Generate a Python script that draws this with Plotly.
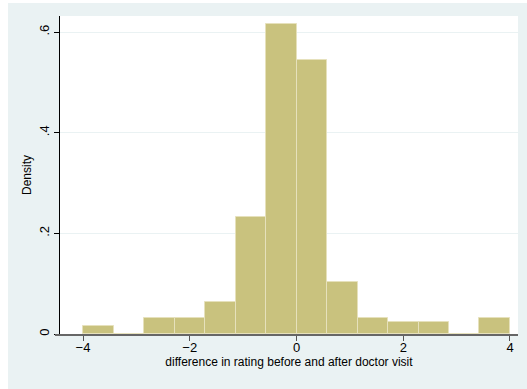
import plotly.graph_objects as go

# Histogram of rating differences: 14 bins of equal width starting at -4
bin_start = -4.0
bin_width = 4.0 / 7.0
density = [0.0165, 0.0, 0.0325, 0.0325, 0.064, 0.232, 0.616,
           0.544, 0.104, 0.0325, 0.0245, 0.0245, 0.0, 0.0325]
centers = [bin_start + (i + 0.5) * bin_width for i in range(len(density))]

y_ticks = [0, 0.2, 0.4, 0.6]
y_labels = ["0", ".2", ".4", ".6"]
x_ticks = [-4, -2, 0, 2, 4]

W, H = 527, 389
L, R, T, B = 60, 9, 16, 55
PW, PH = W - L - R, H - T - B

fig = go.Figure(go.Bar(
    x=centers, y=density, width=bin_width,
    marker=dict(color="#C9C27E", line=dict(color="#E6E1BC", width=1)),
    hoverinfo="x+y",
))

fig.update_layout(
    width=W, height=H,
    margin=dict(l=L, r=R, t=T, b=B),
    paper_bgcolor="#EAF2F3",
    plot_bgcolor="white",
    showlegend=False,
    bargap=0,
    font=dict(family="Liberation Sans, Arial, sans-serif", size=12, color="black"),
    shapes=[
        # thin white frame on the left and top edges of the graph region
        dict(type="rect", xref="paper", yref="paper", layer="above",
             x0=-L / PW, x1=(8 - L) / PW, y0=-B / PH, y1=1 + T / PH,
             fillcolor="white", line=dict(width=0)),
        dict(type="rect", xref="paper", yref="paper", layer="above",
             x0=-L / PW, x1=1 + R / PW, y0=1 + (T - 3) / PH, y1=1 + T / PH,
             fillcolor="white", line=dict(width=0)),
        # x axis line continues a little to the left of the y axis
        dict(type="line", xref="paper", yref="paper", layer="above",
             x0=-5 / PW, x1=0, y0=-1 / PH, y1=-1 / PH,
             line=dict(color="#666666", width=2)),
    ],
)

fig.update_xaxes(
    range=[-4.431, 4.15],
    tickvals=x_ticks,
    ticks="outside", ticklen=5, tickcolor="#555555",
    showline=True, linecolor="#666666", linewidth=2,
    showgrid=False, zeroline=False,
    ticklabelstandoff=-5,
    title=dict(text="difference in rating before and after doctor visit",
               font=dict(size=12), standoff=0),
    tickfont=dict(size=13),
)
fig.update_yaxes(
    range=[0, 0.632],
    tickvals=y_ticks, ticktext=y_labels, tickangle=-90,
    ticks="outside", ticklen=5, tickcolor="black",
    showline=True, linecolor="black", linewidth=1,
    showgrid=True, gridcolor="#EAF2F3", gridwidth=1,
    zeroline=False,
    title=dict(text="Density", font=dict(size=12), standoff=2),
    tickfont=dict(size=13),
)

fig.write_html("out.html")
